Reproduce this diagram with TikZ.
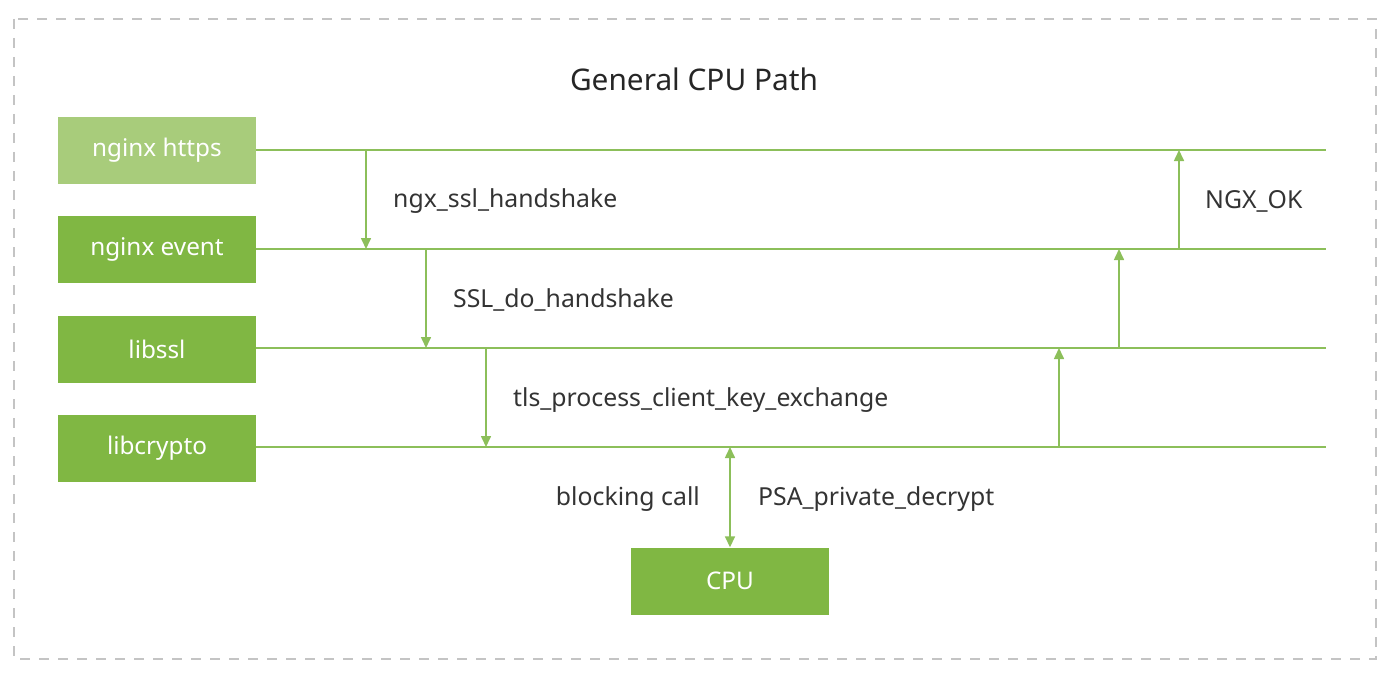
\documentclass[tikz,border=0pt]{standalone}
\usepackage{fontspec}
\setmainfont{Noto Sans}
\usetikzlibrary{arrows.meta}
\definecolor{lightg}{HTML}{A8CC7B}
\definecolor{darkg}{HTML}{80B743}
\definecolor{lineg}{HTML}{8CBF5A}
\definecolor{txt}{HTML}{333333}
\definecolor{frame}{HTML}{C4C4C4}
\tikzset{
  layer/.style={fill=darkg, draw=none, minimum width=198pt, minimum height=67pt, inner sep=0pt, text=white, font=\fontsize{24.3}{28}\selectfont},
  wire/.style={draw=lineg, line width=1.6pt},
  call/.style={draw=lineg, line width=1.6pt, -{Triangle[length=11pt,width=10pt]}},
  lbl/.style={text=txt, font=\fontsize{24.8}{28}\selectfont, inner sep=0pt},
}
\begin{document}
\begin{tikzpicture}[x=1pt,y=-1pt]
\useasboundingbox (0,0) rectangle (1400,674);
\draw[frame, line width=1.3pt, dash pattern=on 10pt off 9pt] (14,19) rectangle (1376,659);
\node[lbl, font=\fontsize{29.8}{34}\selectfont, text=black!85] (title) at (694,79) {General CPU Path};
\node[layer, fill=lightg] (https) at (157,150.5) {nginx https};
\node[layer] (event) at (157,249.5) {nginx event};
\node[layer] (ssl) at (157,349) {libssl};
\node[layer] (crypto) at (157,448) {libcrypto};
\node[layer] (cpu) at (730,581) {CPU};
\coordinate (e1) at (1326,150);
\coordinate (e2) at (1326,249);
\coordinate (e3) at (1326,348);
\coordinate (e4) at (1326,447);
\draw[wire] (https.east |- e1) -- (e1);
\draw[wire] (event.east |- e2) -- (e2);
\draw[wire] (ssl.east |- e3) -- (e3);
\draw[wire] (crypto.east |- e4) -- (e4);
\coordinate (d1a) at (366,150); \coordinate (d1b) at (366,249);
\coordinate (d2a) at (426,249); \coordinate (d2b) at (426,348);
\coordinate (d3a) at (486,348); \coordinate (d3b) at (486,447);
\coordinate (u1a) at (1179,249); \coordinate (u1b) at (1179,150);
\coordinate (u2a) at (1119,348); \coordinate (u2b) at (1119,249);
\coordinate (u3a) at (1059,447); \coordinate (u3b) at (1059,348);
\coordinate (cpuTop) at (730,447);
\draw[call] (d1a) -- (d1b);
\draw[call] (d2a) -- (d2b);
\draw[call] (d3a) -- (d3b);
\draw[call] (u1a) -- (u1b);
\draw[call] (u2a) -- (u2b);
\draw[call] (u3a) -- (u3b);
\draw[call, {Triangle[length=11pt,width=10pt]}-{Triangle[length=11pt,width=10pt]}] (cpuTop) -- (cpu.north);
\node[lbl, anchor=west] (l1) at (393,201) {ngx\_ssl\_handshake};
\node[lbl, anchor=west] (l2) at (453,300) {SSL\_do\_handshake};
\node[lbl, anchor=west] (l3) at (513,400) {tls\_process\_client\_key\_exchange};
\node[lbl, anchor=west] (l4) at (1205,201) {NGX\_OK};
\node[lbl, anchor=east] (l5) at (700,499) {blocking call};
\node[lbl, anchor=west] (l6) at (758,499) {PSA\_private\_decrypt};
\end{tikzpicture}
\end{document}
